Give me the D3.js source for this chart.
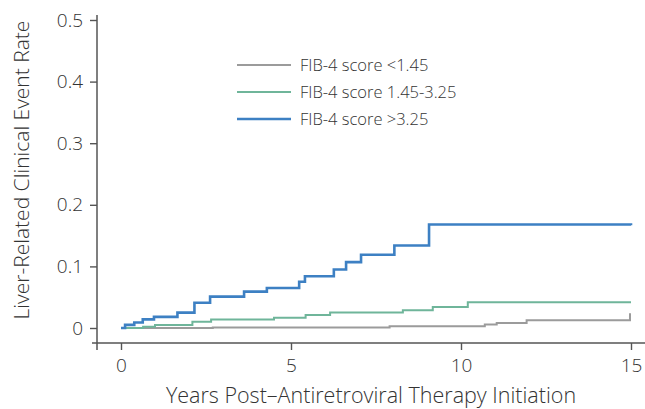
<!DOCTYPE html>
<html>
<head>
<meta charset="utf-8">
<script src="https://cdn.jsdelivr.net/npm/d3@7"></script>
<style>
  body { margin: 0; background: #fff; }
  text { font-family: "Open Sans", "Noto Sans", sans-serif; font-weight: 300; fill: #333; }
</style>
</head>
<body>
<div id="chart"></div>
<script>
// step points: [years, event rate]
let lowFib = [[0,0],[2.7,0.001],[7.9,0.003],[10.7,0.0055],[11.05,0.008],[11.93,0.0125],[14.97,0.0225],[15,0.0225]];
let midFib = [[0,0],[0.65,0.002],[1.0,0.005],[2.1,0.01],[2.65,0.014],[4.5,0.0167],[5.43,0.021],[6.15,0.025],[8.29,0.029],[9.17,0.034],[10.2,0.042],[15,0.042]];
let highFib = [[0,0],[0.12,0.005],[0.39,0.009],[0.64,0.014],[0.97,0.018],[1.66,0.025],[2.16,0.041],[2.62,0.051],[3.62,0.059],[4.29,0.065],[5.24,0.075],[5.41,0.084],[6.26,0.095],[6.62,0.107],[7.06,0.119],[8.04,0.134],[9.06,0.168],[15,0.167]];

let seriesNames = ["FIB-4 score <1.45", "FIB-4 score 1.45-3.25", "FIB-4 score >3.25"];
let seriesColors = ["#9b9b9b", "#6fb59a", "#3d80c3"];
let xTicks = [0, 5, 10, 15];
let yTicks = [0, 0.1, 0.2, 0.3, 0.4, 0.5];

let width = 645, height = 409;

let svg = d3.select("#chart").append("svg")
	.attr("width", width)
	.attr("height", height);

let x = d3.scaleLinear().domain([0, 15]).range([121, 631]);
let y = d3.scaleLinear().domain([0, 0.5]).range([328, 20]);

// axes
let xAxis = d3.axisBottom(x).tickValues(xTicks).tickSize(7).tickSizeOuter(0);
let yAxis = d3.axisLeft(y).tickValues(yTicks).tickSize(7).tickSizeOuter(0)
	.tickFormat(d => d === 0 ? "0" : d3.format(".1f")(d));

let gx = svg.append("g").attr("transform", "translate(0,343)").call(xAxis);
let gy = svg.append("g").attr("transform", "translate(97,0)").call(yAxis);

[gx, gy].forEach(g => {
	g.select(".domain").remove();
	g.selectAll(".tick line").attr("stroke", "#555").attr("stroke-width", 1.4);
	g.selectAll(".tick text").style("font-size", "19px").attr("fill", "#333");
});
gx.selectAll(".tick text").attr("dy", "1.0em");
gy.selectAll(".tick text").attr("x", -14);

// axis lines (x line pokes past the y axis a bit)
svg.append("line").attr("x1", 92).attr("x2", 645).attr("y1", 343).attr("y2", 343)
	.attr("stroke", "#555").attr("stroke-width", 1.5);
svg.append("line").attr("x1", 97).attr("x2", 97).attr("y1", 15).attr("y2", 350)
	.attr("stroke", "#555").attr("stroke-width", 1.5);

// curves
let line = d3.line()
	.x(d => x(d[0]))
	.y(d => y(d[1]))
	.curve(d3.curveStepAfter);

let allSeries = [lowFib, midFib, highFib];
let widths = [2, 2, 2.6];

svg.selectAll(".km")
	.data(allSeries)
	.enter()
	.append("path")
	.attr("class", "km")
	.attr("fill", "none")
	.attr("stroke", (d, i) => seriesColors[i])
	.attr("stroke-width", (d, i) => widths[i])
	.attr("d", line);

// legend
let legendY = [65, 92, 119];
let legend = svg.selectAll(".leg")
	.data(seriesNames)
	.enter()
	.append("g")
	.attr("class", "leg")
	.attr("transform", (d, i) => "translate(237," + legendY[i] + ")");

legend.append("line")
	.attr("x1", 0).attr("x2", 54)
	.attr("stroke", (d, i) => seriesColors[i])
	.attr("stroke-width", (d, i) => widths[i]);

legend.append("text")
	.attr("x", 63)
	.attr("dy", "0.35em")
	.style("font-size", "16.5px")
	.text(d => d);

// axis titles
svg.append("text")
	.attr("x", 371)
	.attr("y", 403)
	.attr("text-anchor", "middle")
	.style("font-size", "21.5px")
	.text("Years Post\u2013Antiretroviral Therapy Initiation");

svg.append("text")
	.attr("transform", "rotate(-90)")
	.attr("x", -170)
	.attr("y", 29)
	.attr("text-anchor", "middle")
	.style("font-size", "21px")
	.text("Liver-Related Clinical Event Rate");
</script>
</body>
</html>
